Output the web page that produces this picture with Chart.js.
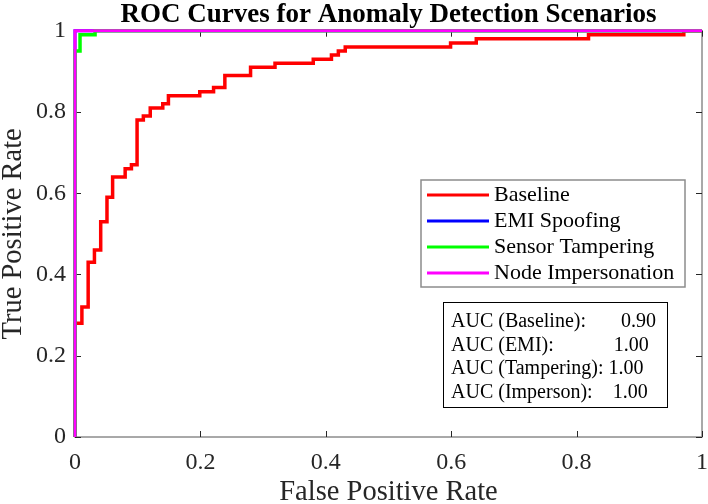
<!DOCTYPE html>
<html>
<head>
<meta charset="utf-8">
<script src="https://cdn.jsdelivr.net/npm/chart.js@4/dist/chart.umd.min.js"></script>
<style>
html,body{margin:0;padding:0;background:#fff;}
#wrap{width:708px;height:504px;}
</style>
</head>
<body>
<div id="wrap"><canvas id="c" width="708" height="504"></canvas></div>
<script>
// ---- Data ----
const xTickLabels = ['0','0.2','0.4','0.6','0.8','1'];
const yTickLabels = ['0','0.2','0.4','0.6','0.8','1'];

const baselineFPR = [0,0,0.011,0.011,0.021,0.021,0.031,0.031,0.041,0.041,0.051,0.051,0.060,0.060,0.080,0.080,0.090,0.090,0.099,0.099,0.109,0.109,0.120,0.120,0.140,0.140,0.149,0.149,0.199,0.199,0.221,0.221,0.239,0.239,0.280,0.280,0.319,0.319,0.380,0.380,0.409,0.409,0.420,0.420,0.431,0.431,0.599,0.599,0.640,0.640,0.819,0.819,0.971,0.971,1];
const baselineTPR = [0,0.28,0.28,0.32,0.32,0.43,0.43,0.46,0.46,0.53,0.53,0.59,0.59,0.64,0.64,0.66,0.66,0.67,0.67,0.78,0.78,0.79,0.79,0.81,0.81,0.82,0.82,0.84,0.84,0.85,0.85,0.86,0.86,0.89,0.89,0.91,0.91,0.92,0.92,0.93,0.93,0.94,0.94,0.95,0.95,0.96,0.96,0.97,0.97,0.98,0.98,0.99,0.99,1,1];

const emiFPR = [0,0,1];
const emiTPR = [0,1,1];

const tamperFPR = [0,0,0.008,0.008,0.032,0.032,1];
const tamperTPR = [0,0.95,0.95,0.99,0.99,1,1];

const impersFPR = [0,0,1];
const impersTPR = [0,1,1];

const seriesNames = ['Baseline','EMI Spoofing','Sensor Tampering','Node Impersonation'];
const seriesColors = ['#ff0000','#0000ff','#00ff00','#ff00ff'];

const aucLines = [
  'AUC (Baseline):       0.90',
  'AUC (EMI):            1.00',
  'AUC (Tampering): 1.00',
  'AUC (Imperson):    1.00'
];

const titleText = 'ROC Curves for Anomaly Detection Scenarios';
const xTitle = 'False Positive Rate';
const yTitle = 'True Positive Rate';

// ---- Build ----
const toPts = (xs, ys) => xs.map((x, i) => ({x: x, y: ys[i]}));
const SERIF = '"Liberation Serif", "Times New Roman", Times, serif';

const allX = [baselineFPR, emiFPR, tamperFPR, impersFPR];
const allY = [baselineTPR, emiTPR, tamperTPR, impersTPR];
const widths = [3.5, 3, 3.5, 3];
const orders = [4, 3, 2, 1];

const datasets = seriesNames.map((n, i) => ({
  label: n,
  data: toPts(allX[i], allY[i]),
  borderColor: seriesColors[i],
  backgroundColor: seriesColors[i],
  borderWidth: widths[i],
  pointRadius: 0,
  fill: false,
  tension: 0,
  order: orders[i],
  clip: 6
}));

const frame = {
  id: 'frame',
  beforeDatasetsDraw(chart) {
    const {ctx, chartArea: a, scales} = chart;
    ctx.save();
    ctx.strokeStyle = '#8c8c8c';
    ctx.lineWidth = 1.5;
    ctx.strokeRect(a.left, a.top, a.right - a.left, a.bottom - a.top);
    ctx.strokeStyle = '#262626';
    ctx.lineWidth = 1;
    const L = 6;
    scales.x.ticks.forEach(t => {
      const px = Math.round(scales.x.getPixelForValue(t.value)) + 0.5;
      ctx.beginPath();
      ctx.moveTo(px, a.bottom); ctx.lineTo(px, a.bottom - L);
      ctx.moveTo(px, a.top); ctx.lineTo(px, a.top + L);
      ctx.stroke();
    });
    scales.y.ticks.forEach(t => {
      const py = Math.round(scales.y.getPixelForValue(t.value)) + 0.5;
      ctx.beginPath();
      ctx.moveTo(a.left, py); ctx.lineTo(a.left + L, py);
      ctx.moveTo(a.right, py); ctx.lineTo(a.right - L, py);
      ctx.stroke();
    });
    ctx.restore();
  },
  afterDraw(chart) {
    const {ctx} = chart;
    ctx.save();
    // Legend
    const lx = 421, ly = 180, lw = 264, lh = 107;
    ctx.fillStyle = '#fff';
    ctx.fillRect(lx, ly, lw, lh);
    ctx.strokeStyle = '#8c8c8c';
    ctx.lineWidth = 1.5;
    ctx.strokeRect(lx, ly, lw, lh);
    ctx.font = '22px ' + SERIF;
    ctx.textBaseline = 'middle';
    ctx.textAlign = 'left';
    seriesNames.forEach((n, i) => {
      const y = 195 + i * 26;
      ctx.strokeStyle = seriesColors[i];
      ctx.lineWidth = 3;
      ctx.beginPath();
      ctx.moveTo(427, y); ctx.lineTo(489, y);
      ctx.stroke();
      ctx.fillStyle = '#000';
      ctx.fillText(n, 494, y);
    });
    // AUC box
    const bx = 443, by = 302, bw = 224, bh = 105;
    ctx.fillStyle = '#fff';
    ctx.fillRect(bx, by, bw, bh);
    ctx.strokeStyle = '#000';
    ctx.lineWidth = 1;
    ctx.strokeRect(bx + 0.5, by + 0.5, bw, bh);
    ctx.font = '20px ' + SERIF;
    ctx.fillStyle = '#000';
    aucLines.forEach((s, i) => {
      ctx.fillText(s, 451, 322 + i * 23.5);
    });
    ctx.restore();
  }
};

new Chart(document.getElementById('c'), {
  type: 'line',
  data: {datasets},
  options: {
    responsive: false,
    animation: false,
    devicePixelRatio: 1,
    layout: {padding: {left: 0, right: 6, top: 0, bottom: 0}},
    plugins: {
      legend: {display: false},
      tooltip: {enabled: false},
      title: {
        display: true,
        text: titleText,
        fullSize: false,
        color: '#000',
        font: {family: SERIF, size: 27, weight: 'bold', lineHeight: 1.1},
        padding: {top: 0, bottom: 1}
      }
    },
    scales: {
      x: {
        type: 'linear', min: 0, max: 1,
        grid: {display: false, drawTicks: false, tickLength: 0},
        border: {display: false},
        ticks: {
          stepSize: 0.2, autoSkip: false, maxRotation: 0, padding: 11,
          color: '#262626',
          font: {family: SERIF, size: 24},
          callback: (v, i) => xTickLabels[i]
        },
        title: {display: true, text: xTitle, color: '#262626',
          font: {family: SERIF, size: 28.5, lineHeight: 0.8}, padding: {top: 0, bottom: 0}},
        afterFit: s => { s.height = 67; s.paddingRight = 0; s.paddingLeft = 0; }
      },
      y: {
        type: 'linear', min: 0, max: 1,
        grid: {display: false, drawTicks: false, tickLength: 0},
        border: {display: false},
        ticks: {
          stepSize: 0.2, autoSkip: false, padding: 9,
          color: '#262626',
          font: {family: SERIF, size: 24},
          callback: (v, i) => yTickLabels[i]
        },
        title: {display: true, text: yTitle, color: '#262626',
          font: {family: SERIF, size: 28.5, lineHeight: 0.9}, padding: {top: 1, bottom: 0}},
        afterFit: s => { s.width = 75; s.paddingTop = 0; s.paddingBottom = 0; }
      }
    }
  },
  plugins: [frame]
});
</script>
</body>
</html>
